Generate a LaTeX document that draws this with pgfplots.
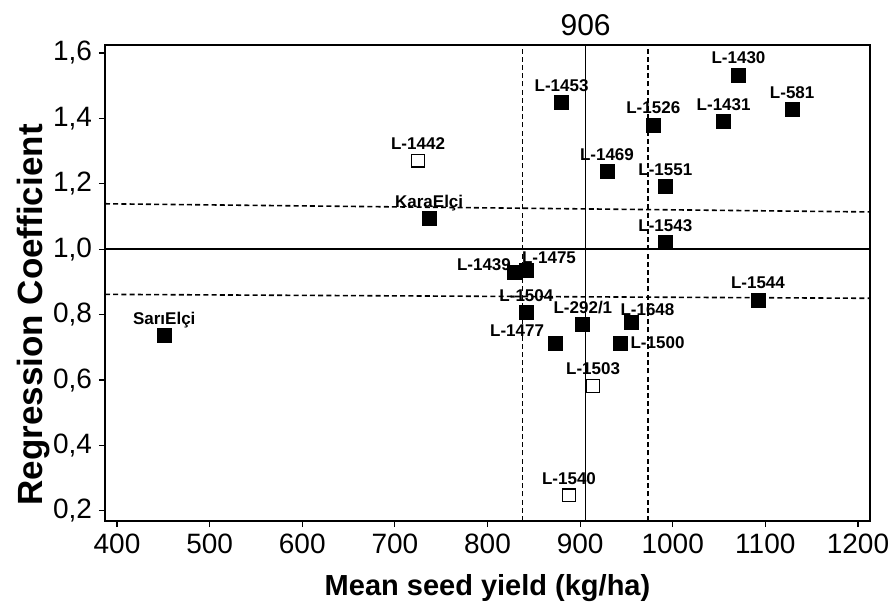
\documentclass[border=0pt]{standalone}
\usepackage{fontspec}
\setmainfont{Liberation Sans}
\usepackage{pgfplots}
\usepackage{pgfplotstable}
\pgfplotsset{compat=1.18}

% genotypes: mean yield, regression coefficient, label, label offsets (pt)
\pgfplotstableread{
x    y     lab      dx     dy
1071 1.533 L-1430   0      5.5
880  1.448 L-1453   0      5.5
979  1.380 L-1526   0      5.5
1055 1.390 L-1431   0      5.5
1129 1.428 L-581    0      5.5
929  1.237 L-1469   0      5.5
992  1.193 L-1551   0      5.5
737  1.094 KaraElçi 0      5.5
992  1.020 L-1543   0      5.5
829  0.929 L-1439   -15.2  1.2
842  0.934 L-1475   11.3   3.9
1092 0.845 L-1544   0      5.5
842  0.806 L-1504   0      5.5
903  0.771 L-292/1  0      5.5
955  0.777 L-1648   8.2    3.5
873  0.712 L-1477   -19    3.6
943  0.712 L-1500   18.8   -2.5
451  0.737 SarıElçi 0      5.5
}\filled

\pgfplotstableread{
x    y     lab      dx     dy
725  1.271 L-1442   0      5.5
914  0.582 L-1503   0      5.5
888  0.247 L-1540   0      5.5
}\open

\begin{document}
\begin{tikzpicture}
\begin{axis}[
  at={(0,0)}, anchor=south west,
  scale only axis, width=382.5pt, height=238pt,
  xmin=387, xmax=1213, ymin=0.169, ymax=1.6245,
  xtick={400,500,600,700,800,900,1000,1100,1200},
  ytick={0.2,0.4,0.6,0.8,1.0,1.2,1.4,1.6},
  xtick pos=bottom, ytick pos=left,
  tick align=outside, major tick length=3pt,
  tick style={black, line width=0.6pt},
  axis line style={black, line width=0.8pt},
  /pgf/number format/assume math mode=true,
  xticklabel style={/pgf/number format/.cd, set thousands separator={}},
  yticklabel style={/pgf/number format/.cd, fixed, fixed zerofill, precision=1, use comma},
  scaled y ticks=false,
  ticklabel style={font=\fontsize{14}{16}\selectfont},
  xlabel={Mean seed yield (kg/ha)},
  ylabel={Regression Coefficient},
  xlabel style={font=\fontsize{14.5}{16}\selectfont\bfseries,
    at={(axis description cs:0.5,0)}, anchor=base, yshift=-37pt},
  ylabel style={font=\fontsize{17.5}{19}\selectfont\bfseries,
    at={(axis description cs:-0.094,0.433)}, anchor=center, rotate=0},
  title={906},
  title style={font=\fontsize{15}{17}\selectfont,
    at={(axis description cs:0.6283,1)}, anchor=base, yshift=-1pt},
  nodes near coords style={font=\fontsize{8.5}{10}\selectfont\bfseries,
    inner sep=0pt, anchor=base, xshift=\dx pt, yshift=\dy pt},
]
\addplot[black, line width=0.8pt] coordinates {(387,1.0) (1213,1.0)};
\addplot[black, line width=0.8pt] coordinates {(906,0.169) (906,1.6245)};
\addplot[black, line width=0.8pt, dash pattern=on 2.5pt off 1.6pt] coordinates {(838,0.169) (838,1.6245)};
\addplot[black, line width=0.8pt, dash pattern=on 2.5pt off 1.6pt] coordinates {(973,0.169) (973,1.6245)};
\addplot[black, line width=0.8pt, dash pattern=on 2.5pt off 1.6pt] coordinates {(387,1.139) (1213,1.114)};
\addplot[black, line width=0.8pt, dash pattern=on 2.5pt off 1.6pt] coordinates {(387,0.862) (1213,0.850)};

\addplot[only marks, mark=square*, mark size=3.5pt, black,
  point meta=explicit symbolic, nodes near coords,
  visualization depends on={\thisrow{dx}\as\dx},
  visualization depends on={\thisrow{dy}\as\dy}]
  table[x=x, y=y, meta=lab] {\filled};
\addplot[only marks, mark=square*, mark size=3.2pt, draw=black, fill=white,
  mark options={line width=0.6pt},
  point meta=explicit symbolic, nodes near coords,
  visualization depends on={\thisrow{dx}\as\dx},
  visualization depends on={\thisrow{dy}\as\dy}]
  table[x=x, y=y, meta=lab] {\open};
\end{axis}
\pgfresetboundingbox
\path[use as bounding box] (-52.5pt,-40pt) rectangle (395.5pt,260.5pt);
\end{tikzpicture}
\end{document}
